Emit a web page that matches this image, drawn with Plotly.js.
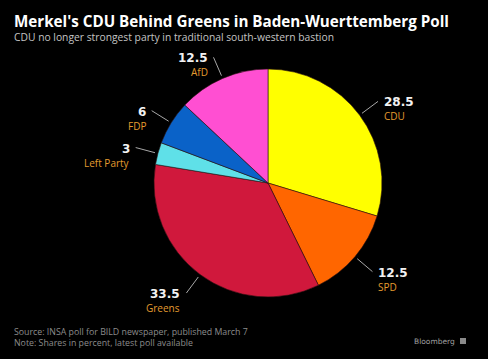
<!DOCTYPE html>
<html>
<head>
<meta charset="utf-8">
<script src="https://cdn.plot.ly/plotly-3.0.1.min.js"></script>
<style>html,body{margin:0;padding:0;background:#000;}#chart{width:488px;height:359px;}</style>
</head>
<body>
<div id="chart"></div>
<script>
const parties = ["CDU", "SPD", "Greens", "Left Party", "FDP", "AfD"];
const shares = [28.5, 12.5, 33.5, 3, 6, 12.5];
const valueLabels = ["28.5", "12.5", "33.5", "3", "6", "12.5"];
const colors = ["#ffff00", "#ff6600", "#d0183c", "#5fe0e8", "#0a62c8", "#ff4fd2"];

const W = 488, H = 359;
const cx = 268, cy = 183, R = 114;
const px2x = x => x / W;
const py2y = y => 1 - y / H;

const total = shares.reduce((a, b) => a + b, 0);
const shapes = [];
const annotations = [];
let cum = 0;
shares.forEach((v, i) => {
  const mid = (cum + v / 2) / total * 2 * Math.PI;
  cum += v;
  const s = Math.sin(mid), c = Math.cos(mid);
  const r1 = R + 3, r2 = R + 23;
  const x1 = cx + r1 * s, y1 = cy - r1 * c;
  const x2 = cx + r2 * s, y2 = cy - r2 * c;
  shapes.push({type: "line", xref: "paper", yref: "paper",
    x0: px2x(x1), y0: py2y(y1), x1: px2x(x2), y1: py2y(y2),
    line: {color: "#a8a8a8", width: 1}});
  const right = s > 0;
  const tx = x2 + (right ? 4 : -4);
  annotations.push({xref: "paper", yref: "paper", x: px2x(tx), y: py2y(y2 + 1),
    xanchor: right ? "left" : "right", yanchor: "middle", showarrow: false,
    text: "<b>" + valueLabels[i] + "</b>",
    font: {family: "DejaVu Sans", size: 12, color: "#f2f2f2"}});
  annotations.push({xref: "paper", yref: "paper", x: px2x(tx), y: py2y(y2 + 6),
    xanchor: right ? "left" : "right", yanchor: "top", showarrow: false,
    text: parties[i],
    font: {family: "Open Sans", size: 10, color: "#e39b2f"}});
});

annotations.push(
  {xref: "paper", yref: "paper", x: px2x(12), y: py2y(20.5), xanchor: "left", yanchor: "middle", showarrow: false,
   text: "<b>Merkel's CDU Behind Greens in Baden-Wuerttemberg Poll</b>",
   font: {family: "Open Sans", size: 15.2, color: "#ffffff"}},
  {xref: "paper", yref: "paper", x: px2x(12), y: py2y(37), xanchor: "left", yanchor: "middle", showarrow: false,
   text: "CDU no longer strongest party in traditional south-western bastion",
   font: {family: "Open Sans", size: 10.3, color: "#c4c4c4"}},
  {xref: "paper", yref: "paper", x: px2x(12), y: py2y(331.5), xanchor: "left", yanchor: "middle", showarrow: false,
   text: "Source: INSA poll for BILD newspaper, published March 7",
   font: {family: "Open Sans", size: 8.8, color: "#8c8c8c"}},
  {xref: "paper", yref: "paper", x: px2x(12), y: py2y(342.5), xanchor: "left", yanchor: "middle", showarrow: false,
   text: "Note: Shares in percent, latest poll available",
   font: {family: "Open Sans", size: 8.8, color: "#8c8c8c"}},
  {xref: "paper", yref: "paper", x: px2x(457), y: py2y(341), xanchor: "right", yanchor: "middle", showarrow: false,
   text: "Bloomberg",
   font: {family: "DejaVu Sans", size: 7.5, color: "#a0a0a0"}}
);
shapes.push({type: "rect", xref: "paper", yref: "paper",
  x0: px2x(460), x1: px2x(466), y0: py2y(344), y1: py2y(338),
  fillcolor: "#8a8a8a", line: {width: 0}});

const trace = {
  type: "pie",
  labels: parties,
  values: shares,
  sort: false,
  direction: "clockwise",
  rotation: 0,
  textinfo: "none",
  hoverinfo: "label+value",
  marker: {colors: colors, line: {color: "#2a1010", width: 0.6}},
  domain: {x: [px2x(cx - R), px2x(cx + R)], y: [py2y(cy + R), py2y(cy - R)]},
  showlegend: false
};

const layout = {
  width: W, height: H,
  margin: {l: 0, r: 0, t: 0, b: 0},
  paper_bgcolor: "#000000",
  plot_bgcolor: "#000000",
  showlegend: false,
  shapes: shapes,
  annotations: annotations
};

Plotly.newPlot("chart", [trace], layout, {displayModeBar: false, staticPlot: true});
</script>
</body>
</html>
